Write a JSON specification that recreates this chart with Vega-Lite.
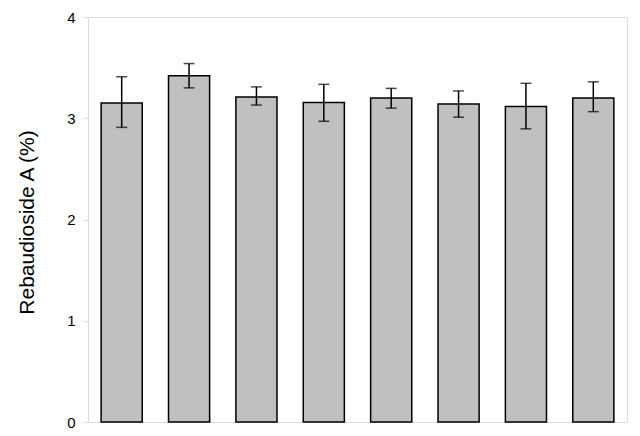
{
  "$schema": "https://vega.github.io/schema/vega-lite/v6.json",
  "autosize": "none",
  "width": 539,
  "height": 405,
  "padding": {"left": 88, "top": 17, "right": 13, "bottom": 14},
  "config": {
    "font": "Liberation Sans",
    "view": {"stroke": "#dcdcdc", "strokeWidth": 1},
    "axis": {"domainColor": "#dcdcdc", "tickColor": "#dcdcdc", "grid": false}
  },
  "data": {
    "values": [
      {"g": "1", "v": 3.15, "lo": 2.91, "hi": 3.41},
      {"g": "2", "v": 3.42, "lo": 3.30, "hi": 3.54},
      {"g": "3", "v": 3.21, "lo": 3.13, "hi": 3.31},
      {"g": "4", "v": 3.155, "lo": 2.97, "hi": 3.335},
      {"g": "5", "v": 3.20, "lo": 3.10, "hi": 3.295},
      {"g": "6", "v": 3.14, "lo": 3.01, "hi": 3.27},
      {"g": "7", "v": 3.115, "lo": 2.895, "hi": 3.345},
      {"g": "8", "v": 3.20, "lo": 3.065, "hi": 3.36}
    ]
  },
  "encoding": {
    "x": {
      "field": "g", "type": "nominal", "sort": null,
      "scale": {"paddingInner": 0.39, "paddingOuter": 0.195},
      "axis": {"labels": false, "title": null, "ticks": true, "tickBand": "extent", "tickSize": -5, "domainColor": "#dcdcdc"}
    }
  },
  "layer": [
    {
      "mark": {"type": "bar", "fill": "#c0c0c0", "stroke": "#000000", "strokeWidth": 1.5},
      "encoding": {
        "y": {
          "field": "v", "type": "quantitative",
          "scale": {"domain": [0, 4], "nice": false, "zero": true},
          "axis": {
            "values": [0, 1, 2, 3, 4],
            "format": "d",
            "title": "Rebaudioside A (%)",
            "titleFontSize": 21,
            "titleFontWeight": "normal",
            "titleColor": "#000000",
            "titleX": -61,
            "titleY": 205,
            "titleAlign": "center",
            "titleBaseline": "middle",
            "titleAngle": 270,
            "labelFontSize": 15,
            "labelColor": "#000000",
            "labelPadding": 8,
            "tickSize": 5
          }
        }
      }
    },
    {
      "mark": {"type": "rule", "color": "#000000", "strokeWidth": 1.5},
      "encoding": {
        "y": {"field": "lo", "type": "quantitative"},
        "y2": {"field": "hi"}
      }
    },
    {
      "mark": {"type": "tick", "color": "#000000", "thickness": 1.5, "size": 11, "orient": "horizontal"},
      "encoding": {"y": {"field": "lo", "type": "quantitative"}}
    },
    {
      "mark": {"type": "tick", "color": "#000000", "thickness": 1.5, "size": 11, "orient": "horizontal"},
      "encoding": {"y": {"field": "hi", "type": "quantitative"}}
    }
  ]
}
